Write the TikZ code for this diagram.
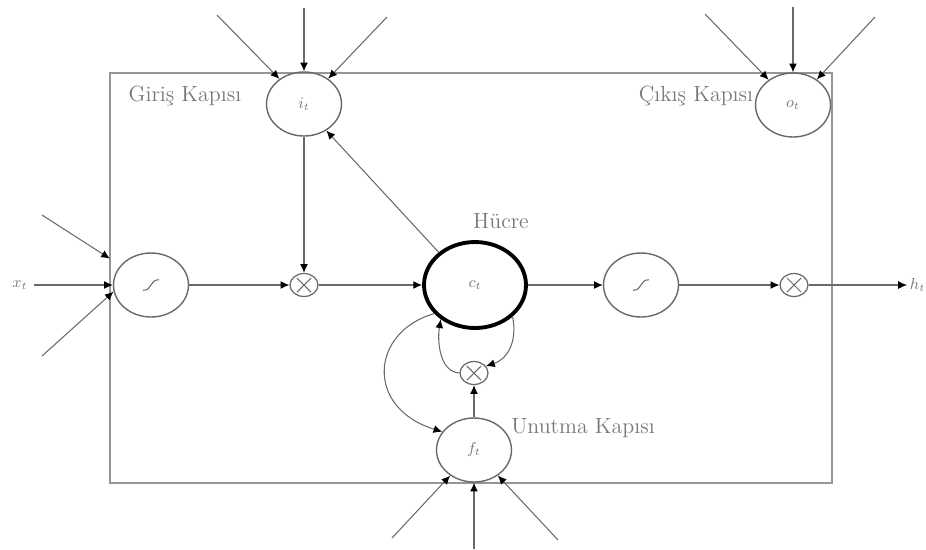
\documentclass[tikz,border=0pt]{standalone}
\usepackage{amsmath, amssymb}
\usepackage{tikz}
\usetikzlibrary{arrows.meta,shapes.geometric}

\definecolor{linegray}{RGB}{105,105,105}
\definecolor{boxgray}{RGB}{150,150,150}
\definecolor{textgray}{RGB}{120,120,120}

\tikzset{
  gate/.style={draw=linegray, line width=0.8pt, ellipse, inner sep=0pt,
    minimum width=1.5cm, minimum height=1.28cm, text=textgray,
    font=\fontsize{9}{10}\selectfont},
  cellnode/.style={draw=black, line width=2.2pt, ellipse, inner sep=0pt,
    minimum width=2.04cm, minimum height=1.72cm, text=textgray,
    font=\fontsize{9}{10}\selectfont},
  mult/.style={draw=linegray, line width=0.7pt, ellipse, inner sep=0pt,
    minimum width=0.56cm, minimum height=0.46cm,
    path picture={\draw[linegray, line width=0.6pt]
      ([shift={(-4pt,-4pt)}]path picture bounding box.center) -- ([shift={(4pt,4pt)}]path picture bounding box.center)
      ([shift={(-4pt,4pt)}]path picture bounding box.center) -- ([shift={(4pt,-4pt)}]path picture bounding box.center);}},
  arr/.style={draw=linegray, line width=0.6pt, -{Latex[length=5pt,width=4.5pt,color=black]}},
  lbl/.style={text=textgray, font=\fontsize{12.5}{14}\selectfont},
}

\begin{document}
\begin{tikzpicture}[x=0.02cm,y=-0.02cm]
\useasboundingbox (0,0) rectangle (926,549);

% Cell frame
\draw[draw=boxgray, line width=1.1pt] (110,73) rectangle (832,483);

% Gates and cell
\node[gate] (it) at (304,104) {$i_t$};
\node[gate] (ot) at (793,105) {$o_t$};
\node[gate] (tanhA) at (151,285) {};
\node[gate] (tanhB) at (641,285) {};
\node[gate] (ft) at (474,450) {$f_t$};
\node[cellnode] (ct) at (475,285) {$c_t$};

% Multipliers
\node[mult] (mulA) at (304,285) {};
\node[mult] (mulB) at (794,285) {};
\node[mult] (mulC) at (474,373) {};

% Squashing curves
\foreach \g in {tanhA,tanhB}
  \draw[linegray, line width=0.6pt] ([shift={(-4.5pt,-3pt)}]\g.center)
    .. controls ([shift={(1pt,-3pt)}]\g.center) and ([shift={(-1pt,3pt)}]\g.center) .. ([shift={(4.5pt,3pt)}]\g.center);

% Labels
\node[lbl] (ingate) at (185,96) {Giriş Kapısı};
\node[lbl] (outgate) at (696,96) {Çıkış Kapısı};
\node[lbl] (cellname) at (501,221) {Hücre};
\node[lbl] (forgetgate) at (583,428) {Unutma Kapısı};
\node[text=textgray, font=\fontsize{9}{10}\selectfont] (xt) at (20,285) {$x_t$};
\node[text=textgray, font=\fontsize{9}{10}\selectfont, anchor=west, inner sep=1.5pt] (ht) at (907,285) {$h_t$};

% Outside inputs
\coordinate (iA) at (217,15);
\coordinate (iB) at (304,8);
\coordinate (iC) at (387,17);
\coordinate (oA) at (705,14);
\coordinate (oB) at (793,7);
\coordinate (oC) at (875,17);
\coordinate (fA) at (392,538);
\coordinate (fB) at (474,549);
\coordinate (fC) at (558,540);
\coordinate (xA) at (42,215);
\coordinate (xC) at (42,356);

\foreach \s in {iA,iB,iC} \draw[arr] (\s) -- (it);
\foreach \s in {oA,oB,oC} \draw[arr] (\s) -- (ot);
\foreach \s in {fA,fB,fC} \draw[arr] (\s) -- (ft);
\draw[arr, shorten >=0.25cm] (xA) -- (tanhA);
\draw[arr] (xt) -- (tanhA);
\draw[arr] (xC) -- (tanhA.190);

% Inner flow
\draw[arr] (tanhA) -- (mulA);
\draw[arr] (it) -- (mulA);
\draw[arr] (mulA) -- (ct);
\draw[arr] (ct.138) -- (it.-50);
\draw[arr] (ct) -- (tanhB);
\draw[arr] (tanhB) -- (mulB);
\draw[arr] (mulB) -- (ht);

% Forget loop
\draw[arr] (ft) -- (mulC);
\draw[arr] (mulC.west) .. controls (440,372) and (437,342) .. (ct.225);
\draw[arr] (ct.-40) .. controls (518,345) and (505,360) .. (mulC.30);
\draw[arr] (ct.215) .. controls (370,332) and (365,408) .. (ft.150);
\end{tikzpicture}
\end{document}
